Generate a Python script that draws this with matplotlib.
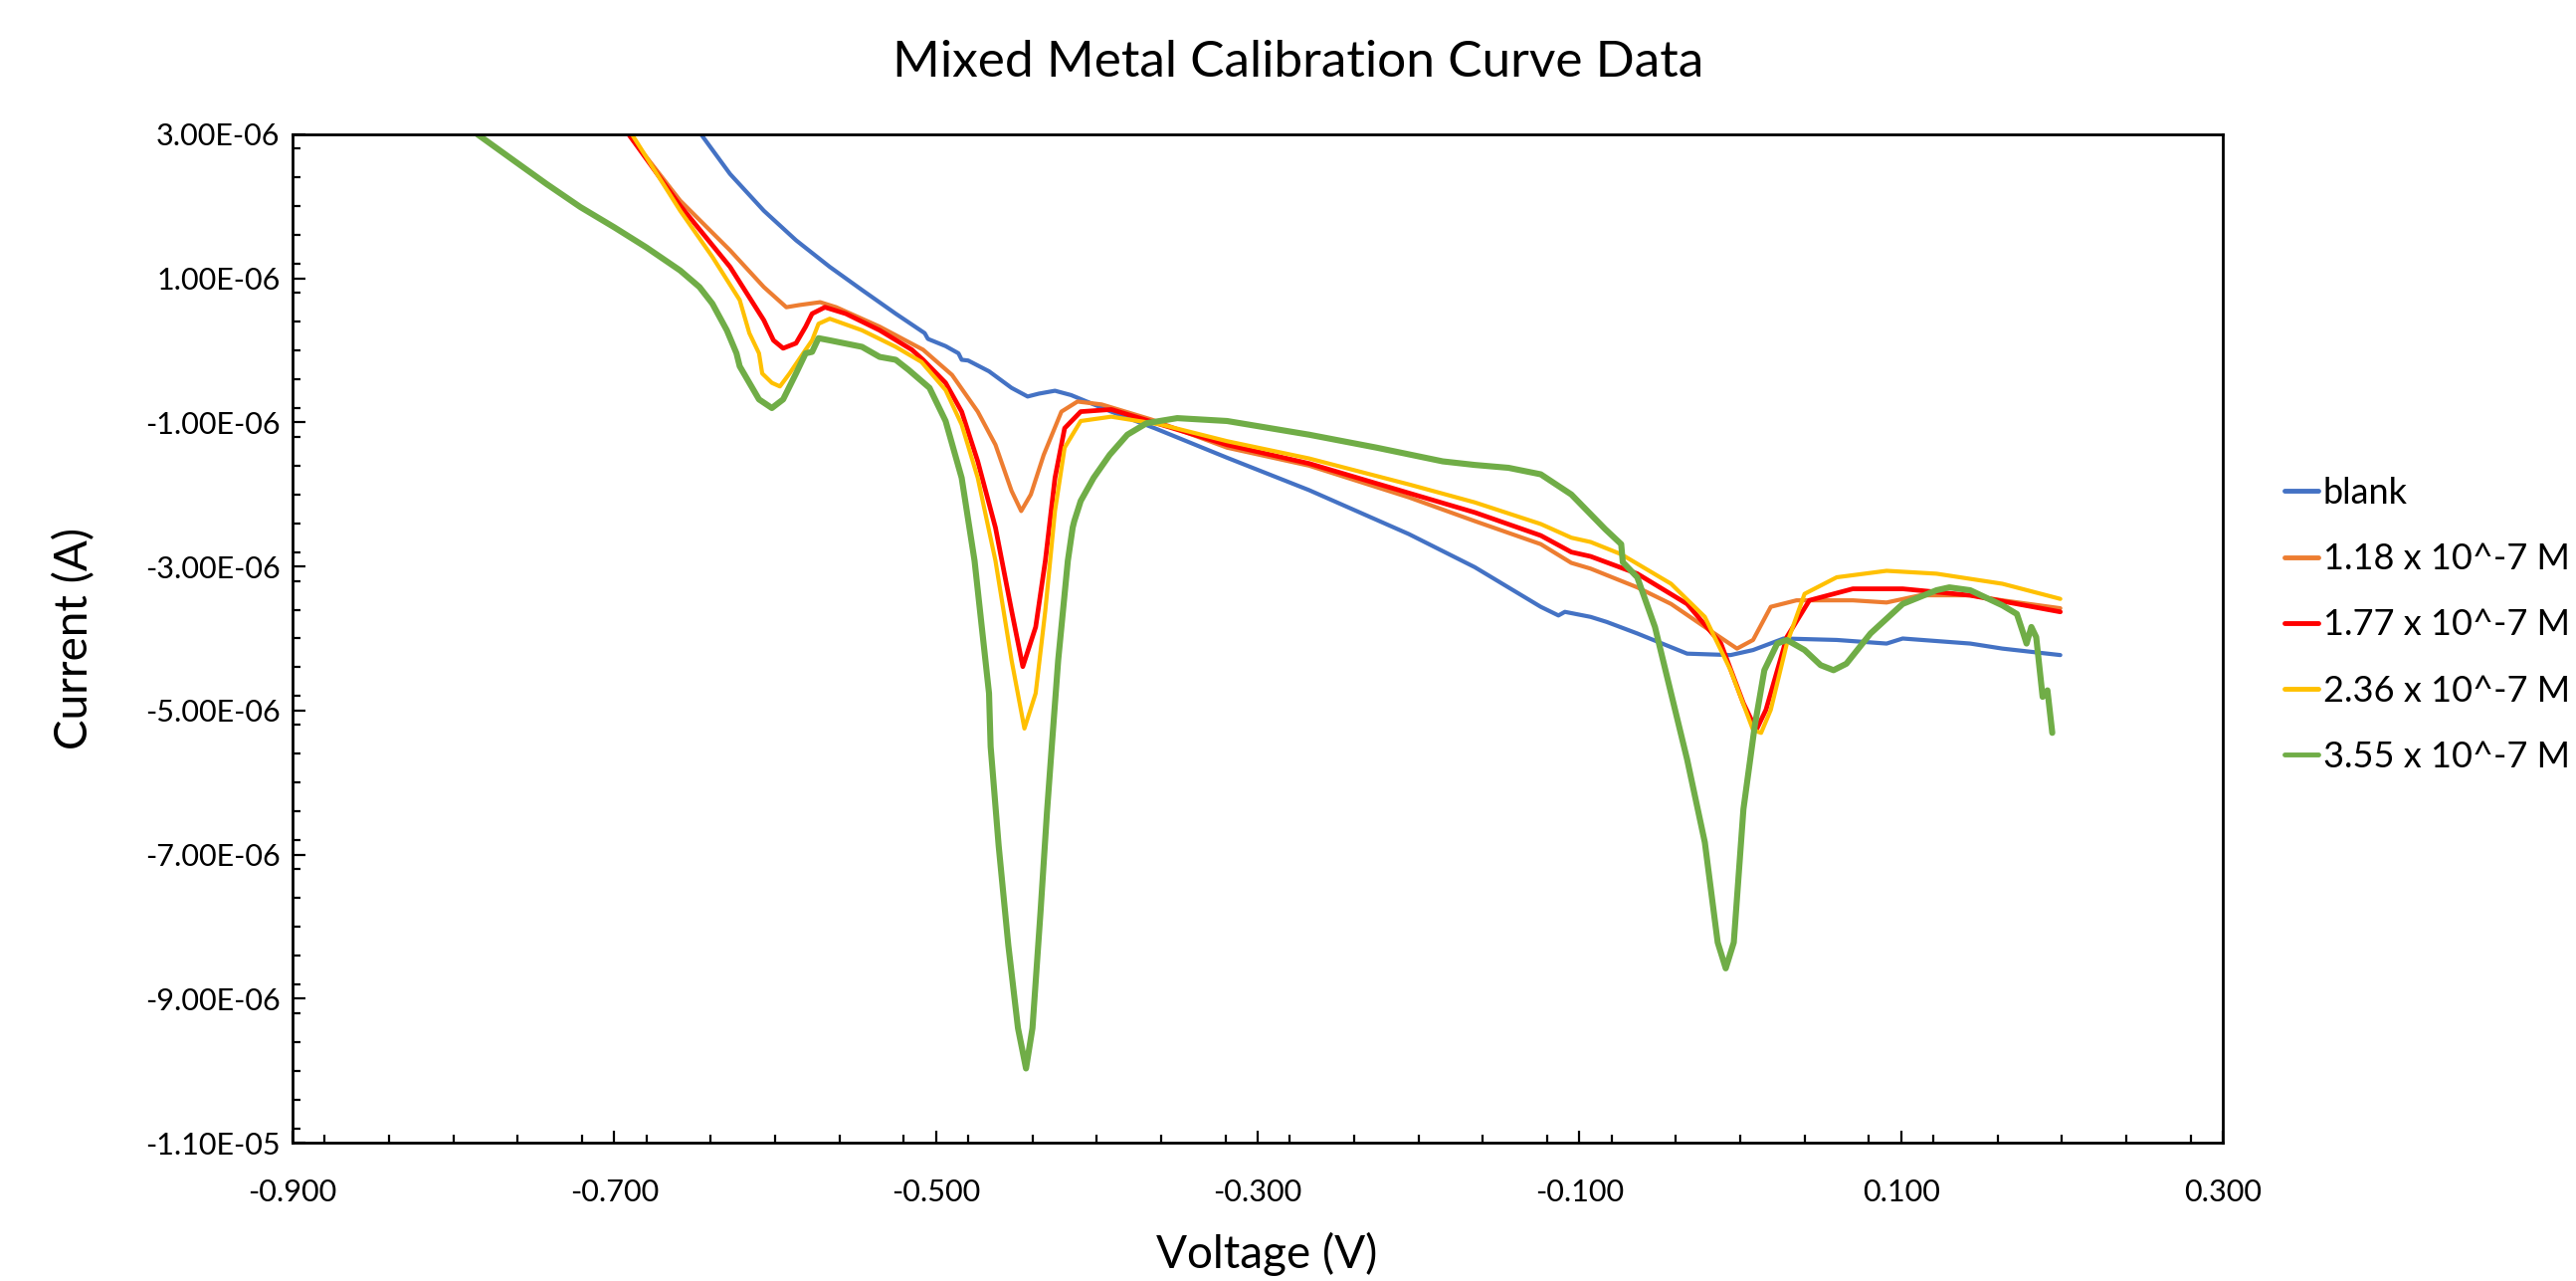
import matplotlib
matplotlib.use("Agg")
import matplotlib.pyplot as plt
from matplotlib.ticker import MultipleLocator, FuncFormatter

plt.rcParams['font.family'] = ['Lato', 'DejaVu Sans']

title = "Mixed Metal Calibration Curve Data"
x_label = "Voltage (V)"
y_label = "Current (A)"
series_names = ["blank", "1.18 x 10^-7 M", "1.77 x 10^-7 M", "2.36 x 10^-7 M", "3.55 x 10^-7 M"]
series_colors = ["#4472C4", "#ED7D31", "#FF0000", "#FFC000", "#70AD47"]

# values; current in units of 1e-6 A
blank_v = [-0.646, -0.628, -0.607, -0.587, -0.566, -0.546, -0.525, -0.507, -0.505, -0.494, -0.486,
           -0.484, -0.480, -0.467, -0.453, -0.443, -0.436, -0.426, -0.416, -0.391, -0.364, -0.319,
           -0.268, -0.206, -0.165, -0.124, -0.113, -0.109, -0.093, -0.083, -0.064, -0.043, -0.033,
           -0.006, 0.008, 0.027, 0.060, 0.091, 0.101, 0.143, 0.163, 0.199]
blank_i = [3.00, 2.45, 1.94, 1.53, 1.16, 0.84, 0.51, 0.24, 0.16, 0.06, -0.04,
           -0.13, -0.14, -0.29, -0.52, -0.64, -0.60, -0.56, -0.62, -0.85, -1.08, -1.49,
           -1.94, -2.55, -3.01, -3.56, -3.68, -3.63, -3.70, -3.77, -3.93, -4.12, -4.21,
           -4.23, -4.16, -4.00, -4.02, -4.07, -4.00, -4.07, -4.14, -4.23]

c118_v = [-0.691, -0.659, -0.628, -0.607, -0.593, -0.585, -0.572, -0.562, -0.535, -0.508, -0.490,
          -0.474, -0.463, -0.453, -0.447, -0.441, -0.433, -0.422, -0.412, -0.397, -0.366, -0.319,
          -0.268, -0.206, -0.165, -0.124, -0.105, -0.093, -0.064, -0.043, -0.022, -0.002, 0.008,
          0.019, 0.035, 0.070, 0.091, 0.112, 0.143, 0.163, 0.199]
c118_i = [3.00, 2.08, 1.39, 0.88, 0.60, 0.63, 0.67, 0.60, 0.33, 0.01, -0.34,
          -0.85, -1.31, -1.95, -2.23, -2.00, -1.45, -0.85, -0.71, -0.75, -0.96, -1.35,
          -1.60, -2.04, -2.37, -2.69, -2.95, -3.03, -3.29, -3.52, -3.84, -4.14, -4.02,
          -3.56, -3.47, -3.47, -3.50, -3.40, -3.40, -3.47, -3.58]

c177_v = [-0.691, -0.659, -0.628, -0.607, -0.601, -0.595, -0.587, -0.581, -0.577, -0.569, -0.556,
          -0.535, -0.515, -0.508, -0.494, -0.484, -0.474, -0.463, -0.453, -0.446, -0.438, -0.432,
          -0.426, -0.420, -0.410, -0.391, -0.360, -0.319, -0.268, -0.206, -0.165, -0.124, -0.105,
          -0.093, -0.064, -0.033, -0.012, 0.002, 0.010, 0.016, 0.029, 0.043, 0.070, 0.101, 0.143, 0.199]
c177_i = [3.00, 2.01, 1.16, 0.42, 0.14, 0.03, 0.10, 0.33, 0.51, 0.60, 0.51,
          0.28, 0.01, -0.13, -0.45, -0.85, -1.54, -2.46, -3.61, -4.39, -3.84, -2.92,
          -1.77, -1.08, -0.85, -0.82, -1.03, -1.31, -1.57, -1.98, -2.25, -2.57, -2.80,
          -2.86, -3.10, -3.52, -4.07, -4.90, -5.27, -4.99, -3.98, -3.47, -3.31, -3.31, -3.40, -3.63]

c236_v = [-0.689, -0.659, -0.639, -0.622, -0.616, -0.610, -0.608, -0.602, -0.597, -0.591, -0.581,
          -0.577, -0.573, -0.566, -0.546, -0.525, -0.509, -0.494, -0.484, -0.474, -0.463, -0.453,
          -0.445, -0.438, -0.432, -0.426, -0.420, -0.410, -0.391, -0.360, -0.319, -0.268, -0.206,
          -0.165, -0.124, -0.105, -0.093, -0.074, -0.043, -0.022, -0.006, 0.008, 0.013, 0.019,
          0.029, 0.040, 0.060, 0.091, 0.122, 0.163, 0.199]
c236_i = [3.00, 1.94, 1.30, 0.70, 0.24, -0.04, -0.32, -0.45, -0.50, -0.32, 0.01,
          0.14, 0.37, 0.44, 0.28, 0.05, -0.16, -0.55, -1.03, -1.77, -2.92, -4.30,
          -5.25, -4.76, -3.61, -2.23, -1.35, -0.98, -0.92, -1.03, -1.26, -1.50, -1.86,
          -2.11, -2.41, -2.60, -2.66, -2.83, -3.24, -3.70, -4.44, -5.27, -5.31, -4.99,
          -4.07, -3.38, -3.15, -3.06, -3.10, -3.24, -3.45]

c355_v = [-0.785, -0.762, -0.742, -0.721, -0.700, -0.680, -0.659, -0.647, -0.639, -0.630, -0.624,
          -0.622, -0.616, -0.610, -0.602, -0.595, -0.587, -0.581, -0.577, -0.573, -0.566, -0.546,
          -0.535, -0.525, -0.517, -0.504, -0.494, -0.484, -0.476, -0.467, -0.466, -0.461, -0.455,
          -0.449, -0.444, -0.440, -0.435, -0.431, -0.428, -0.424, -0.418, -0.415, -0.414, -0.410,
          -0.402, -0.392, -0.381, -0.369, -0.350, -0.319, -0.268, -0.226, -0.185, -0.165, -0.144,
          -0.124, -0.105, -0.084, -0.074, -0.073, -0.064, -0.053, -0.043, -0.033, -0.022, -0.014,
          -0.009, -0.004, 0.002, 0.009, 0.015, 0.023, 0.029, 0.040, 0.050, 0.058, 0.066, 0.081,
          0.101, 0.122, 0.130, 0.143, 0.163, 0.172, 0.176, 0.178, 0.181, 0.184, 0.188, 0.191, 0.194]
c355_i = [3.00, 2.63, 2.31, 1.99, 1.71, 1.43, 1.11, 0.88, 0.65, 0.28, -0.04,
          -0.22, -0.45, -0.68, -0.80, -0.68, -0.32, -0.04, -0.02, 0.17, 0.14, 0.05,
          -0.09, -0.13, -0.27, -0.52, -0.98, -1.77, -2.92, -4.76, -5.50, -6.88, -8.26,
          -9.41, -9.97, -9.41, -7.80, -6.42, -5.50, -4.30, -2.92, -2.46, -2.37, -2.09,
          -1.77, -1.45, -1.17, -1.01, -0.94, -0.98, -1.17, -1.35, -1.54, -1.59, -1.63,
          -1.72, -2.00, -2.48, -2.69, -2.94, -3.15, -3.84, -4.76, -5.68, -6.83, -8.22,
          -8.58, -8.22, -6.37, -5.22, -4.44, -4.07, -4.02, -4.16, -4.37, -4.44, -4.35, -3.93,
          -3.52, -3.33, -3.29, -3.33, -3.54, -3.66, -3.93, -4.07, -3.84, -3.98, -4.81, -4.72, -5.31]

x_ticks = [-0.9, -0.7, -0.5, -0.3, -0.1, 0.1, 0.3]
y_ticks = [3e-6, 1e-6, -1e-6, -3e-6, -5e-6, -7e-6, -9e-6, -1.1e-5]

series_v = [blank_v, c118_v, c177_v, c236_v, c355_v]
series_i = [blank_i, c118_i, c177_i, c236_i, c355_i]
widths = [3.0, 3.0, 3.4, 3.0, 4.4]

fig = plt.figure(figsize=(25.89, 12.87), dpi=100)
ax = fig.add_axes([294/2589, 1-1148/1287, (2234-294)/2589, (1148-135)/1287])

for v, i, name, col, lw in zip(series_v, series_i, series_names, series_colors, widths):
    ax.plot(v, [k * 1e-6 for k in i], color=col, lw=lw, label=name,
            solid_capstyle='round', solid_joinstyle='round')

ax.set_xlim(-0.9, 0.3)
ax.set_ylim(-1.1e-5, 3e-6)
ax.set_xticks(x_ticks)
ax.set_yticks(y_ticks)
ax.xaxis.set_minor_locator(MultipleLocator(0.04))
ax.yaxis.set_minor_locator(MultipleLocator(0.4e-6))
ax.xaxis.set_major_formatter(FuncFormatter(lambda v, p: f"{v:.3f}"))
ax.yaxis.set_major_formatter(FuncFormatter(lambda v, p: f"{v:.2E}"))
ax.tick_params(which='major', direction='in', length=9, width=1.6, labelsize=22, colors='black')
ax.tick_params(which='minor', direction='in', length=6, width=1.6)
ax.tick_params(axis='y', which='major', pad=9)
ax.tick_params(axis='x', which='major', pad=26)
for s in ax.spines.values():
    s.set_linewidth(2.0)
    s.set_color('black')

fig.text(0.504, 0.951, title, ha='center', va='center', fontsize=37)
fig.text(0.029, (1 - (135 + 1148) / 2 / 1287), y_label, ha='center', va='center', rotation=90, fontsize=33)
fig.text(1273/2589, 1 - 1260/1287, x_label, ha='center', va='center', fontsize=33)

leg = fig.legend(loc='upper left', bbox_to_anchor=(2296/2589, 1 - 479/1287), frameon=False,
                 fontsize=26, handlelength=0.95, handletextpad=0.12, labelspacing=0.92,
                 borderaxespad=0, borderpad=0)
for h in leg.get_lines():
    h.set_linewidth(3.5)

fig.savefig("out.png", dpi=100)
